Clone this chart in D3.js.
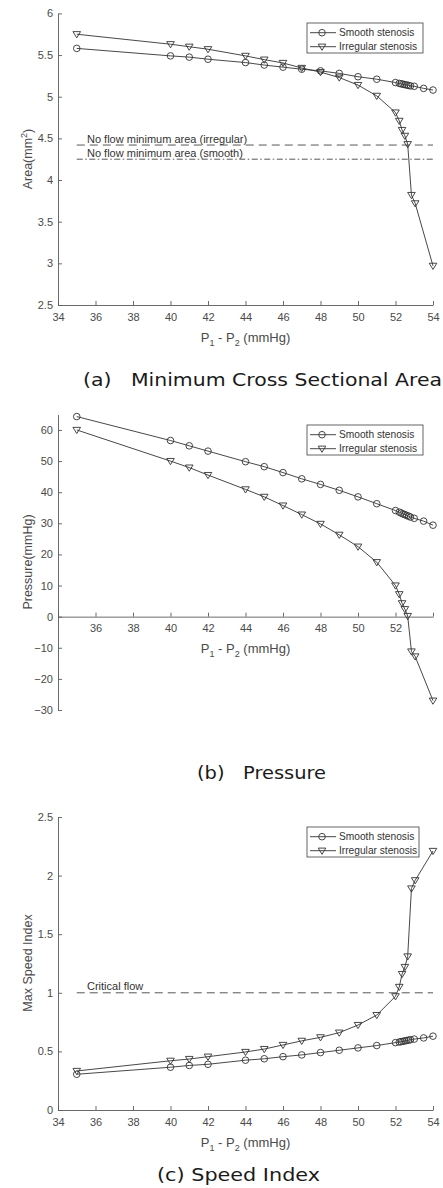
<!DOCTYPE html>
<html>
<head>
<meta charset="utf-8">
<script src="https://cdn.jsdelivr.net/npm/d3@7"></script>
<style>
  body { margin: 0; background: #fff; }
  svg { display: block; }
  .tick text { font-family: "Liberation Sans", Arial, sans-serif; font-size: 11px; fill: #4a4a4a; }
  .tick line, .domain { stroke: #5a5a5a; stroke-width: 0.9; }
</style>
</head>
<body>
<svg id="chart" width="443" height="1188"></svg>
<script>
// x values (P1 - P2, mmHg)
const xSmooth = [35, 40, 41, 42, 44, 45, 46, 47, 48, 49, 50, 51, 52, 52.2, 52.3, 52.4, 52.5, 52.6, 52.7, 52.8, 53, 53.5, 54];
const xIrregular = [35, 40, 41, 42, 44, 45, 46, 47, 48, 49, 50, 51, 52, 52.2, 52.35, 52.5, 52.65, 52.85, 53.05, 54];

// (a) minimum cross sectional area
const areaSmooth = [5.58, 5.49, 5.475, 5.45, 5.41, 5.38, 5.355, 5.33, 5.31, 5.28, 5.24, 5.21, 5.17, 5.16, 5.155, 5.15, 5.145, 5.14, 5.135, 5.13, 5.125, 5.10, 5.08];
const areaIrregular = [5.75, 5.63, 5.60, 5.57, 5.49, 5.445, 5.405, 5.345, 5.295, 5.23, 5.14, 5.01, 4.81, 4.71, 4.60, 4.53, 4.43, 3.82, 3.72, 2.97];
const noFlowIrregular = 4.42;
const noFlowSmooth = 4.25;

// (b) pressure
const pressureSmooth = [64.3, 56.6, 54.9, 53.2, 49.8, 48.2, 46.3, 44.3, 42.5, 40.6, 38.5, 36.3, 34.1, 33.6, 33.3, 33.0, 32.8, 32.5, 32.3, 32.0, 31.6, 30.7, 29.4];
const pressureIrregular = [60, 50, 47.9, 45.5, 40.9, 38.5, 35.7, 32.8, 29.8, 26.3, 22.5, 17.5, 10.0, 7.2, 4.3, 2.4, 0.2, -11.2, -12.8, -27.0];

// (c) max speed index
const speedSmooth = [0.305, 0.365, 0.38, 0.39, 0.425, 0.437, 0.455, 0.47, 0.49, 0.51, 0.53, 0.55, 0.575, 0.58, 0.583, 0.586, 0.59, 0.593, 0.596, 0.6, 0.605, 0.615, 0.63];
const speedIrregular = [0.333, 0.42, 0.435, 0.455, 0.495, 0.52, 0.555, 0.59, 0.62, 0.66, 0.725, 0.81, 0.97, 1.05, 1.16, 1.22, 1.31, 1.89, 1.96, 2.21];
const criticalFlow = 1;

const xTicks = [34, 36, 38, 40, 42, 44, 46, 48, 50, 52, 54];
const areaTicks = [2.5, 3, 3.5, 4, 4.5, 5, 5.5, 6];
const pressureTicks = [-30, -20, -10, 0, 10, 20, 30, 40, 50, 60];
const speedTicks = [0, 0.5, 1, 1.5, 2, 2.5];

const legendLabels = ["Smooth stenosis", "Irregular stenosis"];
const captions = ["(a)   Minimum Cross Sectional Area", "(b)   Pressure", "(c) Speed Index"];

const svg = d3.select("#chart");
const lineColor = "#333";
const textFont = '"Liberation Sans", Arial, sans-serif';

const x = d3.scaleLinear().domain([34, 54]).range([58, 433]);

function marker(g, type, cx, cy) {
  if (type === "circle") {
    g.append("circle").attr("cx", cx).attr("cy", cy).attr("r", 3.3)
      .attr("fill", "none").attr("stroke", lineColor).attr("stroke-width", 0.9);
  } else {
    g.append("path")
      .attr("d", `M${cx - 3.8},${cy - 2.6}L${cx + 3.8},${cy - 2.6}L${cx},${cy + 3.6}Z`)
      .attr("fill", "none").attr("stroke", lineColor).attr("stroke-width", 0.9);
  }
}

function series(g, y, xs, ys, type) {
  const pts = xs.map((d, i) => [x(d), y(ys[i])]);
  g.append("path").attr("d", d3.line()(pts))
    .attr("fill", "none").attr("stroke", lineColor).attr("stroke-width", 0.9);
  pts.forEach(p => marker(g, type, p[0], p[1]));
}

function xLabel(g, cx, baseline) {
  const t = g.append("text").attr("x", cx).attr("y", baseline)
    .attr("text-anchor", "middle").attr("font-family", textFont)
    .attr("font-size", 13).attr("fill", "#4a4a4a");
  t.append("tspan").text("P");
  t.append("tspan").attr("font-size", 9).attr("dy", 3.5).text("1");
  t.append("tspan").attr("dy", -3.5).text(" - P");
  t.append("tspan").attr("font-size", 9).attr("dy", 3.5).text("2");
  t.append("tspan").attr("dy", -3.5).text(" (mmHg)");
}

function yLabel(g, cy, parts) {
  const t = g.append("text").attr("transform", `translate(32,${cy}) rotate(-90)`)
    .attr("text-anchor", "middle").attr("font-family", textFont)
    .attr("font-size", 12.5).attr("fill", "#4a4a4a");
  parts.forEach(p => {
    const s = t.append("tspan").text(p.text);
    if (p.sup) s.attr("font-size", 9).attr("dy", -5);
    if (p.after) s.attr("dy", 5);
  });
}

function legend(g, left, top, width) {
  g.append("rect").attr("x", left).attr("y", top).attr("width", width).attr("height", 30)
    .attr("fill", "#fff").attr("stroke", "#555").attr("stroke-width", 0.9);
  legendLabels.forEach((lab, i) => {
    const yy = top + 9.7 + i * 14;
    g.append("line").attr("x1", left + 3).attr("x2", left + 29).attr("y1", yy).attr("y2", yy)
      .attr("stroke", lineColor).attr("stroke-width", 0.9);
    marker(g, i === 0 ? "circle" : "triangle", left + 15, yy);
    g.append("text").attr("x", left + 32).attr("y", yy + 3.6)
      .attr("font-family", textFont).attr("font-size", 10.2).attr("fill", "#333").text(lab);
  });
}

function refLine(g, y, value, dash, label) {
  g.append("line").attr("x1", x(35)).attr("x2", x(54)).attr("y1", y(value)).attr("y2", y(value))
    .attr("stroke", "#444").attr("stroke-width", 0.9).attr("stroke-dasharray", dash);
  g.append("text").attr("x", 87).attr("y", y(value) - 2.5)
    .attr("font-family", textFont).attr("font-size", 11).attr("fill", "#333").text(label);
}

function caption(text, cx, baseline, width) {
  svg.append("text").attr("x", cx).attr("y", baseline).attr("text-anchor", "middle")
    .attr("font-family", '"DejaVu Sans", sans-serif').attr("font-size", 17.5).attr("fill", "#1a1a1a")
    .attr("textLength", width).attr("lengthAdjust", "spacingAndGlyphs")
    .style("white-space", "pre").text(text);
}

function axes(g, y, yTicks, yFormat, xAxisY, xTickLabels) {
  g.append("g").attr("transform", `translate(${x.range()[0]},0)`)
    .call(d3.axisLeft(y).tickValues(yTicks).tickFormat(yFormat).tickSizeInner(-4).tickSizeOuter(0).tickPadding(5));
  const xa = g.append("g").attr("transform", `translate(0,${xAxisY})`)
    .call(d3.axisBottom(x).tickValues(xTicks).tickSizeInner(-4).tickSizeOuter(0).tickPadding(8)
      .tickFormat(d => xTickLabels.includes(d) ? d : ""));
  xa.selectAll(".tick text").attr("dy", "0.71em");
}

// ---- (a) Area ----
const yA = d3.scaleLinear().domain([2.5, 6]).range([305, 13.4]);
const gA = svg.append("g");
axes(gA, yA, areaTicks, d3.format("~g"), 305, xTicks);
refLine(gA, yA, noFlowIrregular, "8,5", "No flow minimum area (irregular)");
refLine(gA, yA, noFlowSmooth, "6,2.5,1.5,2.5", "No flow minimum area (smooth)");
series(gA, yA, xSmooth, areaSmooth, "circle");
series(gA, yA, xIrregular, areaIrregular, "triangle");
legend(gA, 307, 23, 116);
xLabel(gA, 245.5, 342);
yLabel(gA, 159, [{ text: "Area(mm" }, { text: "2", sup: true }, { text: ")", after: true }]);
caption(captions[0], 262.5, 386, 359);

// ---- (b) Pressure ----
const yB = d3.scaleLinear().domain([-30, 65]).range([710, 414.4]);
const gB = svg.append("g");
axes(gB, yB, pressureTicks, d3.format("d"), yB(0), [36, 38, 40, 42, 44, 46, 48, 50, 52]);
series(gB, yB, xSmooth, pressureSmooth, "circle");
series(gB, yB, xIrregular, pressureIrregular, "triangle");
legend(gB, 307, 425, 116);
xLabel(gB, 245.5, 653);
yLabel(gB, 562, [{ text: "Pressure(mmHg)" }]);
caption(captions[1], 261.5, 779, 129);

// ---- (c) Speed index ----
const yC = d3.scaleLinear().domain([0, 2.5]).range([1110, 817]);
const gC = svg.append("g");
axes(gC, yC, speedTicks, d3.format("~g"), 1110, xTicks);
refLine(gC, yC, criticalFlow, "8,5", "Critical flow");
series(gC, yC, xSmooth, speedSmooth, "circle");
series(gC, yC, xIrregular, speedIrregular, "triangle");
legend(gC, 307, 827, 112);
xLabel(gC, 245.5, 1147);
yLabel(gC, 963, [{ text: "Max Speed Index" }]);
caption(captions[2], 238.5, 1181, 163);
</script>
</body>
</html>
